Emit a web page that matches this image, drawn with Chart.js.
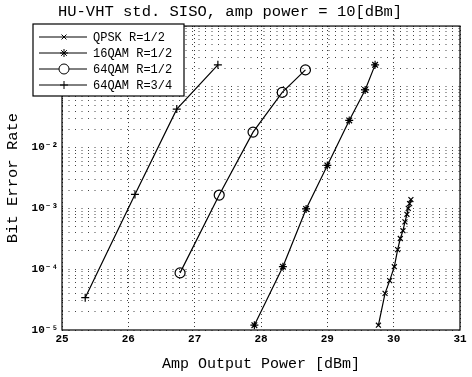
<!DOCTYPE html>
<html>
<head>
<meta charset="utf-8">
<script src="https://cdn.jsdelivr.net/npm/chart.js@4.4.0/dist/chart.umd.min.js"></script>
<style>
  html, body { margin: 0; padding: 0; background: #fff; }
  #wrap { width: 472px; height: 377px; }
</style>
</head>
<body>
<div id="wrap"><canvas id="myChart"></canvas></div>
<script>
// values
const seriesNames = ['QPSK R=1/2', '16QAM R=1/2', '64QAM R=1/2', '64QAM R=3/4'];

const qpskX = [29.77, 29.87, 29.94, 30.01, 30.06, 30.10, 30.14, 30.17, 30.20, 30.22, 30.24, 30.26];
const qpskY = [1.2e-5, 4.0e-5, 6.5e-5, 1.1e-4, 2.1e-4, 3.2e-4, 4.3e-4, 6.0e-4, 8.0e-4, 1.0e-3, 1.2e-3, 1.4e-3];

const qam16X = [27.90, 28.33, 28.68, 29.00, 29.33, 29.57, 29.72];
const qam16Y = [1.2e-5, 1.1e-4, 9.8e-4, 5.1e-3, 2.8e-2, 8.9e-2, 2.3e-1];

const qam64aX = [26.78, 27.37, 27.88, 28.32, 28.67];
const qam64aY = [8.7e-5, 1.66e-3, 1.8e-2, 8.1e-2, 1.9e-1];

const qam64bX = [25.35, 26.10, 26.73, 27.35];
const qam64bY = [3.4e-5, 1.7e-3, 4.3e-2, 2.3e-1];

const xTickLabels = ['25', '26', '27', '28', '29', '30', '31'];
const yTickLabels = { '-5': '10⁻⁵', '-4': '10⁻⁴', '-3': '10⁻³', '-2': '10⁻²' };

const mono = "'Liberation Mono', 'DejaVu Sans Mono', monospace";

function pts(xs, ys) {
    return xs.map((x, i) => ({ x: x, y: ys[i] }));
}

function isMajor(v) {
    const e = Math.log10(v);
    return Math.abs(e - Math.round(e)) < 1e-6;
}

const styles = [
    { pointStyle: 'crossRot', radius: 3.5 },
    { pointStyle: 'star', radius: 4 },
    { pointStyle: 'circle', radius: 5 },
    { pointStyle: 'cross', radius: 4 }
];
const allData = [pts(qpskX, qpskY), pts(qam16X, qam16Y), pts(qam64aX, qam64aY), pts(qam64bX, qam64bY)];

const datasets = seriesNames.map((name, i) => ({
    label: name,
    data: allData[i],
    showLine: true,
    borderColor: '#000',
    borderWidth: 1.2,
    backgroundColor: 'rgba(0,0,0,0)',
    pointBorderColor: '#000',
    pointBackgroundColor: 'rgba(0,0,0,0)',
    pointBorderWidth: 1.2,
    pointStyle: styles[i].pointStyle,
    pointRadius: styles[i].radius,
    tension: 0
}));

// frame + legend box drawn on top of the plot
const frameLegend = {
    id: 'frameLegend',
    afterDraw(chart) {
        const c = chart.ctx;
        const a = chart.chartArea;
        c.save();
        c.strokeStyle = '#000';
        c.lineWidth = 1.2;
        c.setLineDash([]);
        c.strokeRect(a.left, a.top, a.right - a.left, a.bottom - a.top);

        const bx = 33, by = 24, bw = 151, bh = 72;
        c.fillStyle = '#fff';
        c.fillRect(bx, by, bw, bh);
        c.strokeRect(bx, by, bw, bh);
        c.font = '12px ' + mono;
        c.textBaseline = 'middle';
        chart.data.datasets.forEach((ds, i) => {
            const yy = by + 13 + i * 16;
            c.strokeStyle = '#000';
            c.lineWidth = 1;
            c.beginPath();
            c.moveTo(bx + 6, yy);
            c.lineTo(bx + 54, yy);
            c.stroke();
            c.fillStyle = '#fff';
            Chart.helpers.drawPoint(c, {
                pointStyle: ds.pointStyle,
                radius: ds.pointRadius,
                borderWidth: 1.2
            }, bx + 31, yy);
            c.fillStyle = '#000';
            c.fillText(ds.label, bx + 60, yy + 1);
        });
        c.restore();
    }
};

const ctx = document.getElementById('myChart');

let myChart = new Chart(ctx, {
    type: 'scatter',
    data: { datasets: datasets },
    options: {
        responsive: true,
        maintainAspectRatio: false,
        animation: false,
        layout: { padding: { left: 0, right: 12, top: 0, bottom: 0 } },
        plugins: {
            legend: { display: false },
            tooltip: { enabled: false },
            title: {
                display: true,
                text: 'HU-VHT std. SISO, amp power = 10[dBm]',
                color: '#000',
                font: { family: mono, size: 15.5, weight: 'normal', lineHeight: 1.1 },
                padding: { top: 3, bottom: 6 }
            }
        },
        scales: {
            x: {
                type: 'linear',
                min: 25,
                max: 31,
                afterFit(scale) { scale.height = 47; },
                ticks: {
                    stepSize: 1,
                    color: '#000',
                    padding: 3,
                    font: { family: mono, size: 11, weight: 'bold' },
                    callback: (v) => xTickLabels[Math.round(v - 25)]
                },
                grid: {
                    color: '#333',
                    lineWidth: 1,
                    drawTicks: false
                },
                border: { display: false, dash: [1, 3] },
                title: {
                    display: true,
                    text: 'Amp Output Power [dBm]',
                    color: '#000',
                    font: { family: mono, size: 15 },
                    padding: { top: 2 }
                }
            },
            y: {
                type: 'logarithmic',
                min: 1e-5,
                max: 1,
                afterFit(scale) { scale.width = 62; },
                afterBuildTicks(scale) {
                    const t = [];
                    for (let e = -5; e < 0; e++) {
                        for (let m = 1; m < 10; m++) t.push({ value: m * Math.pow(10, e) });
                    }
                    t.push({ value: 1 });
                    scale.ticks = t;
                },
                ticks: {
                    autoSkip: false,
                    color: '#000',
                    padding: 4,
                    font: { family: mono, size: 11, weight: 'bold' },
                    callback: (v) => {
                        if (!isMajor(v)) return '';
                        const lab = yTickLabels[String(Math.round(Math.log10(v)))];
                        return lab === undefined ? '' : lab;
                    }
                },
                grid: {
                    color: '#444',
                    lineWidth: 1,
                    drawTicks: false
                },
                border: { display: false, dash: [1, 5.5] },
                title: {
                    display: true,
                    text: 'Bit Error Rate',
                    color: '#000',
                    font: { family: mono, size: 15.5 },
                    padding: { bottom: 0 }
                }
            }
        }
    },
    plugins: [frameLegend]
});
</script>
</body>
</html>
